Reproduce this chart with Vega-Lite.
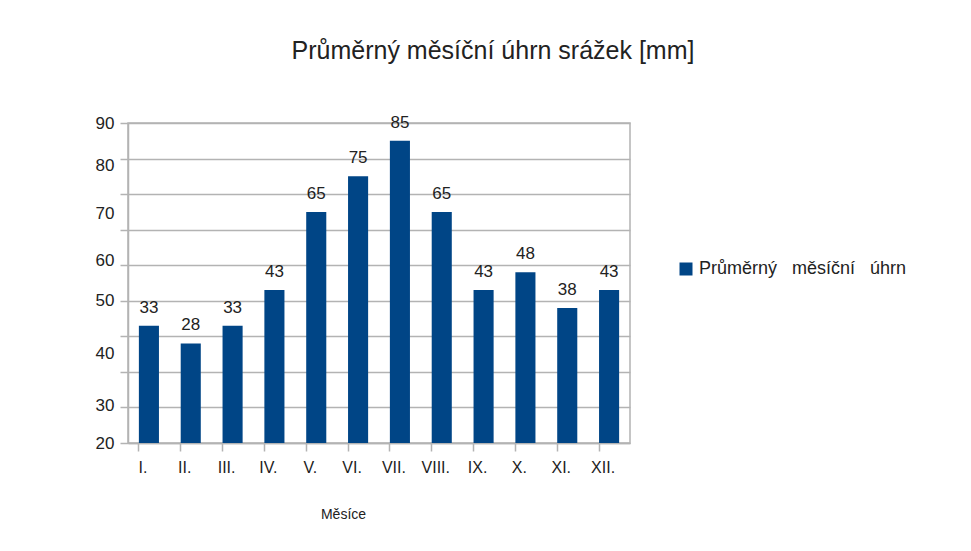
{
  "$schema": "https://vega.github.io/schema/vega-lite/v6.json",
  "autosize": "none",
  "width": 502,
  "height": 320,
  "padding": {"left": 128, "top": 123, "right": 341, "bottom": 108},
  "background": "white",
  "config": {
    "font": "Liberation Sans",
    "view": {"stroke": "#b3b3b3", "strokeWidth": 1.5}
  },
  "title": {
    "text": "Průměrný měsíční úhrn srážek [mm]",
    "fontSize": 25,
    "fontWeight": "normal",
    "color": "#222",
    "anchor": "middle",
    "dx": 114,
    "offset": 50
  },
  "data": {
    "values": [
      {"mesic": "I.", "srazky": 33, "serie": "Průměrný\u00a0\u00a0 měsíční\u00a0\u00a0 úhrn"},
      {"mesic": "II.", "srazky": 28, "serie": "Průměrný\u00a0\u00a0 měsíční\u00a0\u00a0 úhrn"},
      {"mesic": "III.", "srazky": 33, "serie": "Průměrný\u00a0\u00a0 měsíční\u00a0\u00a0 úhrn"},
      {"mesic": "IV.", "srazky": 43, "serie": "Průměrný\u00a0\u00a0 měsíční\u00a0\u00a0 úhrn"},
      {"mesic": "V.", "srazky": 65, "serie": "Průměrný\u00a0\u00a0 měsíční\u00a0\u00a0 úhrn"},
      {"mesic": "VI.", "srazky": 75, "serie": "Průměrný\u00a0\u00a0 měsíční\u00a0\u00a0 úhrn"},
      {"mesic": "VII.", "srazky": 85, "serie": "Průměrný\u00a0\u00a0 měsíční\u00a0\u00a0 úhrn"},
      {"mesic": "VIII.", "srazky": 65, "serie": "Průměrný\u00a0\u00a0 měsíční\u00a0\u00a0 úhrn"},
      {"mesic": "IX.", "srazky": 43, "serie": "Průměrný\u00a0\u00a0 měsíční\u00a0\u00a0 úhrn"},
      {"mesic": "X.", "srazky": 48, "serie": "Průměrný\u00a0\u00a0 měsíční\u00a0\u00a0 úhrn"},
      {"mesic": "XI.", "srazky": 38, "serie": "Průměrný\u00a0\u00a0 měsíční\u00a0\u00a0 úhrn"},
      {"mesic": "XII.", "srazky": 43, "serie": "Průměrný\u00a0\u00a0 měsíční\u00a0\u00a0 úhrn"}
    ]
  },
  "encoding": {
    "x": {
      "field": "mesic",
      "type": "nominal",
      "sort": null,
      "scale": {"paddingInner": 0.52, "paddingOuter": 0.26},
      "axis": {
        "title": "Měsíce",
        "titleFont": "Liberation Sans",
        "titleFontSize": 14,
        "titleFontWeight": "normal",
        "titleColor": "#222",
        "titlePadding": 32,
        "titleX": 215,
        "labelAngle": 0,
        "labelFontSize": 16,
        "labelColor": "#222",
        "labelPadding": 8,
        "labelOffset": -6,
        "bandPosition": 0,
        "tickColor": "#b3b3b3",
        "tickSize": 8,
        "tickWidth": 1.5,
        "domainColor": "#b3b3b3",
        "domainWidth": 1.5
      }
    }
  },
  "layer": [
    {
      "mark": {"type": "bar", "color": "#004586"},
      "encoding": {
        "y": {
          "field": "srazky",
          "type": "quantitative",
          "scale": {"domain": [0, 90], "nice": false, "zero": true},
          "axis": {
            "title": null,
            "values": [0, 10, 20, 30, 40, 50, 60, 70, 80, 90],
            "labels": false,
            "grid": true,
            "gridColor": "#b3b3b3",
            "gridWidth": 1.5,
            "ticks": true,
            "tickSize": 8,
            "tickColor": "#b3b3b3",
            "tickWidth": 1.5,
            "domainColor": "#b3b3b3",
            "domainWidth": 1.5
          }
        },
        "color": {
          "field": "serie",
          "type": "nominal",
          "scale": {"range": ["#004586"]},
          "legend": {
            "title": null,
            "orient": "none",
            "legendX": 549,
            "legendY": 137,
            "symbolType": "square",
            "symbolSize": 169,
            "symbolStrokeWidth": 0,
            "symbolOpacity": 1,
            "labelFontSize": 18,
            "labelColor": "#222",
            "labelFont": "Liberation Sans",
            "labelLimit": 300,
            "labelOffset": 4
          }
        }
      }
    },
    {
      "mark": {"type": "text", "baseline": "bottom", "dy": -9, "fontSize": 17, "color": "#222", "font": "Liberation Sans"},
      "encoding": {
        "y": {
          "field": "srazky",
          "type": "quantitative",
          "axis": {
            "orient": "left",
            "title": null,
            "values": [0, 10.5, 25.2, 40.1, 51.4, 64.6, 78.1, 90],
            "labelExpr": "datum.value < 5 ? '20' : datum.value < 15 ? '30' : datum.value < 30 ? '40' : datum.value < 45 ? '50' : datum.value < 58 ? '60' : datum.value < 70 ? '70' : datum.value < 85 ? '80' : '90'",
            "grid": false,
            "ticks": false,
            "domain": false,
            "labelPadding": 14,
            "labelFontSize": 17,
            "labelColor": "#222",
            "labelFont": "Liberation Sans"
          }
        },
        "text": {"field": "srazky", "type": "quantitative"}
      }
    }
  ],
  "resolve": {"scale": {"y": "shared"}, "axis": {"y": "independent"}}
}
